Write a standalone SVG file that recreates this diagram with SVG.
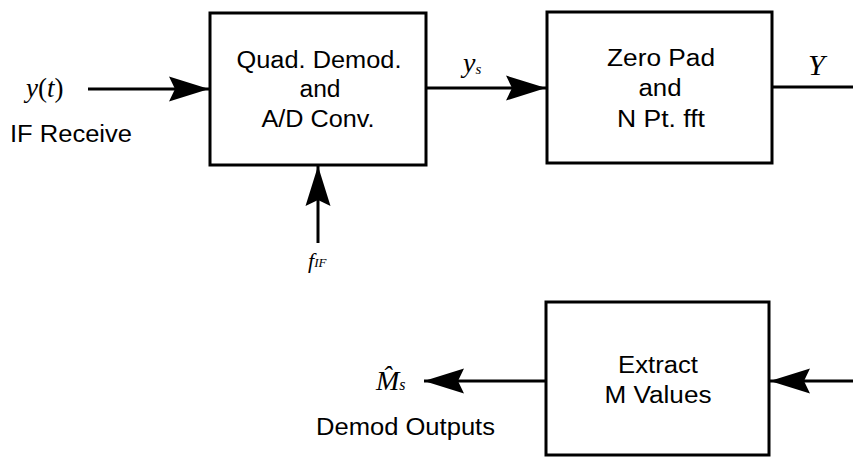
<svg xmlns="http://www.w3.org/2000/svg" width="853" height="457" viewBox="0 0 853 457">
<defs>
<style>
.box{fill:#fff;stroke:#000;stroke-width:3}
.ln{fill:none;stroke:#000;stroke-width:3;marker-end:url(#ah)}
.pl{fill:none;stroke:#000;stroke-width:3}
.t{font-family:"Liberation Sans",Arial,sans-serif;font-size:23px;fill:#000}
.c{text-anchor:middle}
.m{font-family:"Liberation Serif","Times New Roman",serif;font-style:italic;fill:#000}
</style>
<marker id="ah" markerUnits="userSpaceOnUse" markerWidth="40" markerHeight="26" viewBox="0 0 40 26" refX="40" refY="13" orient="auto">
<path d="M40,13 L0,0.5 L6,13 L0,25.5 Z" fill="#000"/>
</marker>
</defs>
<rect width="853" height="457" fill="#fff"/>

<g id="connectors">
<line class="ln" x1="88" y1="89" x2="209" y2="89"/>
<line class="ln" x1="318" y1="243" x2="318" y2="166"/>
<line class="ln" x1="425" y1="88" x2="546" y2="88"/>
<line class="pl" x1="772" y1="87" x2="853" y2="87"/>
<line class="ln" x1="853" y1="381" x2="770" y2="381"/>
<line class="ln" x1="546" y1="381" x2="424" y2="381"/>
</g>

<g id="input">
<text class="m" x="26" y="97" font-size="27">y<tspan font-style="normal">(</tspan>t<tspan font-style="normal">)</tspan></text>
<text class="t" x="10" y="142" textLength="122" lengthAdjust="spacingAndGlyphs">IF Receive</text>
</g>

<g id="fif">
<text class="m" x="308" y="268" font-size="22">f<tspan font-size="13" dy="-1">IF</tspan></text>
</g>

<g id="quad">
<rect class="box" x="210" y="13" width="216" height="152"/>
<text class="t c" x="319" y="68" textLength="165" lengthAdjust="spacingAndGlyphs">Quad. Demod.</text>
<text class="t c" x="320" y="97" textLength="41" lengthAdjust="spacingAndGlyphs">and</text>
<text class="t c" x="318" y="127" textLength="113" lengthAdjust="spacingAndGlyphs">A/D Conv.</text>
</g>

<g id="ys">
<text class="m" x="463" y="72" font-size="28">y<tspan font-size="15" dy="2">s</tspan></text>
</g>

<g id="fft">
<rect class="box" x="547" y="12" width="225" height="151"/>
<text class="t c" x="661" y="66" textLength="108" lengthAdjust="spacingAndGlyphs">Zero Pad</text>
<text class="t c" x="660" y="96" textLength="43" lengthAdjust="spacingAndGlyphs">and</text>
<text class="t c" x="661" y="127" textLength="88" lengthAdjust="spacingAndGlyphs">N Pt. fft</text>
</g>

<g id="Y">
<text class="m" x="808" y="75" font-size="30">Y</text>
</g>

<g id="extract">
<rect class="box" x="546" y="302" width="223" height="153"/>
<text class="t c" x="658" y="373" textLength="80" lengthAdjust="spacingAndGlyphs">Extract</text>
<text class="t c" x="658" y="403" textLength="107" lengthAdjust="spacingAndGlyphs">M Values</text>
</g>

<g id="output">
<text class="m" x="376" y="390" font-size="28">M̂<tspan font-size="16">s</tspan></text>
<text class="t" x="316" y="435" textLength="179" lengthAdjust="spacingAndGlyphs">Demod Outputs</text>
</g>
</svg>
